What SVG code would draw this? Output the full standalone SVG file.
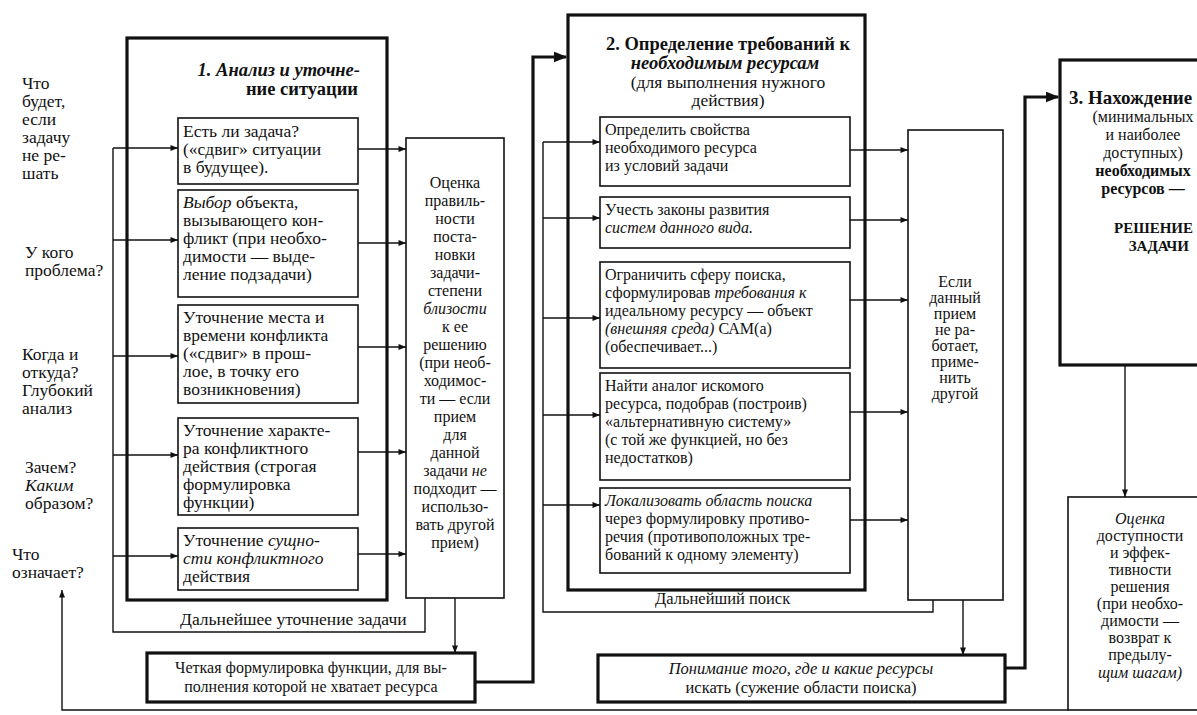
<svg xmlns="http://www.w3.org/2000/svg" width="1197" height="715" viewBox="0 0 1197 715">
<defs>
<style>
.t{font-family:"Liberation Serif","Times New Roman",serif;font-size:16px;fill:#111}
.q{font-size:17.5px}
.s1{font-size:17.5px}
.h{font-size:18.5px}
.h3{font-size:19px}
.cap{font-size:15px}
.m{font-size:16.5px}
.c{text-anchor:middle}
.e{text-anchor:end}
.b{font-weight:bold}
.i{font-style:italic}
.thin{stroke:#111;stroke-width:1.4;fill:none}
.thick{stroke:#111;stroke-width:3.2;fill:none}
.box{fill:#fff;stroke:#111;stroke-width:1.6}
.tbox{fill:#fff;stroke:#111;stroke-width:3.2}
</style>
<marker id="a" viewBox="0 0 10 8" refX="10" refY="4" markerWidth="8" markerHeight="6" markerUnits="userSpaceOnUse" orient="auto"><path d="M0,0 L10,4 L0,8 z" fill="#111"/></marker>
<marker id="A" viewBox="0 0 10 8" refX="9" refY="4" markerWidth="14" markerHeight="11" markerUnits="userSpaceOnUse" orient="auto"><path d="M0,0 L10,4 L0,8 z" fill="#111"/></marker>
</defs>
<rect width="1197" height="715" fill="#fff"/>

<g id="questions">
<text class="t q" x="22" y="89">Что</text>
<text class="t q" x="22" y="107">будет,</text>
<text class="t q" x="22" y="125">если</text>
<text class="t q" x="22" y="143">задачу</text>
<text class="t q" x="22" y="161">не ре-</text>
<text class="t q" x="22" y="179">шать</text>
<text class="t q" x="25" y="258">У кого</text>
<text class="t q" x="25" y="276">проблема?</text>
<text class="t q" x="22" y="360">Когда и</text>
<text class="t q" x="22" y="378">откуда?</text>
<text class="t q" x="22" y="396">Глубокий</text>
<text class="t q" x="22" y="414">анализ</text>
<text class="t q" x="25" y="473">Зачем?</text>
<text class="t q i" x="25" y="491">Каким</text>
<text class="t q" x="25" y="509">образом?</text>
<text class="t q" x="12" y="560">Что</text>
<text class="t q" x="12" y="578">означает?</text>
</g>

<g id="block1">
<rect class="tbox" x="127" y="38" width="260" height="562"/>
<text class="t h b i e" x="360" y="76">1. Анализ и уточне-</text>
<text class="t h b e" x="358" y="95">ние ситуации</text>
</g>

<g id="block2">
<rect class="tbox" x="568" y="15" width="297" height="575"/>
<text class="t h b c" x="728" y="50">2. Определение требований к</text>
<text class="t h b i c" x="725" y="69">необходимым ресурсам</text>
<text class="t s1 c" x="728" y="88">(для выполнения нужного</text>
<text class="t s1 c" x="728" y="106">действия)</text>
</g>

<g id="block3">
<rect class="tbox" x="1060" y="60" width="150" height="305"/>
<text class="t h3 b" x="1069" y="104">3. Нахождение</text>
<text class="t c" x="1143" y="122">(минимальных</text>
<text class="t c" x="1143" y="140">и наиболее</text>
<text class="t c" x="1143" y="158">доступных)</text>
<text class="t b c" x="1143" y="176">необходимых</text>
<text class="t b c" x="1143" y="194">ресурсов —</text>
<text class="t cap b e" x="1193" y="233">РЕШЕНИЕ</text>
<text class="t cap b e" x="1189" y="251">ЗАДАЧИ</text>
</g>

<g id="connectors">
<polyline class="thin" points="425,598 425,632 113,632 113,148"/>
<line class="thin" x1="113" y1="148" x2="178" y2="148" marker-end="url(#a)"/>
<line class="thin" x1="113" y1="240" x2="178" y2="240" marker-end="url(#a)"/>
<line class="thin" x1="113" y1="356" x2="178" y2="356" marker-end="url(#a)"/>
<line class="thin" x1="113" y1="455" x2="178" y2="455" marker-end="url(#a)"/>
<line class="thin" x1="113" y1="556" x2="178" y2="556" marker-end="url(#a)"/>
<line class="thin" x1="358" y1="149" x2="406" y2="149" marker-end="url(#a)"/>
<line class="thin" x1="358" y1="243" x2="406" y2="243" marker-end="url(#a)"/>
<line class="thin" x1="358" y1="347" x2="406" y2="347" marker-end="url(#a)"/>
<line class="thin" x1="358" y1="452" x2="406" y2="452" marker-end="url(#a)"/>
<line class="thin" x1="358" y1="554" x2="406" y2="554" marker-end="url(#a)"/>
<line class="thin" x1="455" y1="598" x2="455" y2="653" marker-end="url(#a)"/>
<polyline class="thick" points="475,682 533,682 533,57 566,57" marker-end="url(#A)"/>
<polyline class="thin" points="933,600 933,612 543,612 543,142"/>
<line class="thin" x1="543" y1="142" x2="600" y2="142" marker-end="url(#a)"/>
<line class="thin" x1="543" y1="218" x2="600" y2="218" marker-end="url(#a)"/>
<line class="thin" x1="543" y1="318" x2="600" y2="318" marker-end="url(#a)"/>
<line class="thin" x1="543" y1="415" x2="600" y2="415" marker-end="url(#a)"/>
<line class="thin" x1="543" y1="505" x2="600" y2="505" marker-end="url(#a)"/>
<line class="thin" x1="850" y1="150" x2="908" y2="150" marker-end="url(#a)"/>
<line class="thin" x1="850" y1="220" x2="908" y2="220" marker-end="url(#a)"/>
<line class="thin" x1="850" y1="300" x2="908" y2="300" marker-end="url(#a)"/>
<line class="thin" x1="850" y1="412" x2="908" y2="412" marker-end="url(#a)"/>
<line class="thin" x1="850" y1="520" x2="908" y2="520" marker-end="url(#a)"/>
<line class="thin" x1="963" y1="600" x2="963" y2="655" marker-end="url(#a)"/>
<polyline class="thick" points="1005,668 1025,668 1025,97 1058,97" marker-end="url(#A)"/>
<line class="thin" x1="1125" y1="365" x2="1125" y2="497" marker-end="url(#a)"/>
<polyline class="thin" points="1068,710 62,710 62,590" marker-end="url(#a)"/>
</g>

<g id="b1-1"><rect class="box" x="178" y="118" width="180" height="66"/>
<text class="t s1" x="183" y="137">Есть ли задача?</text>
<text class="t s1" x="183" y="155">(«сдвиг» ситуации</text>
<text class="t s1" x="183" y="173">в будущее).</text></g>

<g id="b1-2"><rect class="box" x="178" y="190" width="180" height="107"/>
<text class="t s1" x="183" y="208"><tspan class="i">Выбор</tspan> объекта,</text>
<text class="t s1" x="183" y="226">вызывающего кон-</text>
<text class="t s1" x="183" y="244">фликт (при необхо-</text>
<text class="t s1" x="183" y="262">димости — выде-</text>
<text class="t s1" x="183" y="280">ление подзадачи)</text></g>

<g id="b1-3"><rect class="box" x="178" y="305" width="180" height="98"/>
<text class="t s1" x="183" y="323">Уточнение места и</text>
<text class="t s1" x="183" y="341">времени конфликта</text>
<text class="t s1" x="183" y="359">(«сдвиг» в прош-</text>
<text class="t s1" x="183" y="377">лое, в точку его</text>
<text class="t s1" x="183" y="395">возникновения)</text></g>

<g id="b1-4"><rect class="box" x="178" y="418" width="180" height="97"/>
<text class="t s1" x="183" y="436">Уточнение характе-</text>
<text class="t s1" x="183" y="454">ра конфликтного</text>
<text class="t s1" x="183" y="472">действия (строгая</text>
<text class="t s1" x="183" y="490">формулировка</text>
<text class="t s1" x="183" y="508">функции)</text></g>

<g id="b1-5"><rect class="box" x="178" y="528" width="180" height="62"/>
<text class="t s1" x="183" y="546">Уточнение <tspan class="i">сущно-</tspan></text>
<text class="t s1 i" x="183" y="564">сти конфликтного</text>
<text class="t s1" x="183" y="582">действия</text></g>

<g id="evaluation"><rect class="box" x="406" y="138" width="98" height="460"/>
<text class="t c" x="455" y="188">Оценка</text>
<text class="t c" x="455" y="206">правиль-</text>
<text class="t c" x="455" y="224">ности</text>
<text class="t c" x="455" y="242">поста-</text>
<text class="t c" x="455" y="260">новки</text>
<text class="t c" x="455" y="278">задачи-</text>
<text class="t c" x="455" y="296">степени</text>
<text class="t c i" x="455" y="314">близости</text>
<text class="t c" x="455" y="332">к ее</text>
<text class="t c" x="455" y="350">решению</text>
<text class="t c" x="455" y="368">(при необ-</text>
<text class="t c" x="455" y="386">ходимос-</text>
<text class="t c" x="455" y="404">ти — если</text>
<text class="t c" x="455" y="422">прием</text>
<text class="t c" x="455" y="440">для</text>
<text class="t c" x="455" y="458">данной</text>
<text class="t c" x="455" y="476">задачи <tspan class="i">не</tspan></text>
<text class="t c" x="455" y="494">подходит —</text>
<text class="t c" x="455" y="512">использо-</text>
<text class="t c" x="455" y="530">вать другой</text>
<text class="t c" x="455" y="548">прием)</text></g>

<g id="label-refine"><text class="t s1" x="180" y="625">Дальнейшее уточнение задачи</text></g>

<g id="function"><rect class="tbox" x="147" y="653" width="328" height="49"/>
<text class="t c" x="311" y="673">Четкая формулировка функции, для вы-</text>
<text class="t c" x="311" y="692">полнения которой не хватает ресурса</text></g>

<g id="b2-1"><rect class="box" x="600" y="117" width="250" height="69"/>
<text class="t" x="605" y="135">Определить свойства</text>
<text class="t" x="605" y="153">необходимого ресурса</text>
<text class="t" x="605" y="171">из условий задачи</text></g>

<g id="b2-2"><rect class="box" x="600" y="197" width="250" height="51"/>
<text class="t" x="605" y="215">Учесть законы развития</text>
<text class="t i" x="605" y="233">систем данного вида.</text></g>

<g id="b2-3"><rect class="box" x="600" y="262" width="250" height="106"/>
<text class="t" x="605" y="280">Ограничить сферу поиска,</text>
<text class="t" x="605" y="298">сформулировав <tspan class="i">требования к</tspan></text>
<text class="t" x="605" y="316">идеальному ресурсу — объект</text>
<text class="t" x="605" y="334"><tspan class="i">(внешняя среда)</tspan> САМ(а)</text>
<text class="t" x="605" y="352">(обеспечивает...)</text></g>

<g id="b2-4"><rect class="box" x="600" y="373" width="250" height="107"/>
<text class="t" x="605" y="391">Найти аналог искомого</text>
<text class="t" x="605" y="409">ресурса, подобрав (построив)</text>
<text class="t" x="605" y="427">«альтернативную систему»</text>
<text class="t" x="605" y="445">(с той же функцией, но без</text>
<text class="t" x="605" y="463">недостатков)</text></g>

<g id="b2-5"><rect class="box" x="600" y="488" width="250" height="85"/>
<text class="t i" x="605" y="506">Локализовать область поиска</text>
<text class="t" x="605" y="524">через формулировку противо-</text>
<text class="t" x="605" y="542">речия (противоположных тре-</text>
<text class="t" x="605" y="560">бований к одному элементу)</text></g>

<g id="if-not"><rect class="box" x="908" y="130" width="95" height="470"/>
<text class="t c" x="955" y="287">Если</text>
<text class="t c" x="955" y="303">данный</text>
<text class="t c" x="955" y="319">прием</text>
<text class="t c" x="955" y="335">не ра-</text>
<text class="t c" x="955" y="351">ботает,</text>
<text class="t c" x="955" y="367">приме-</text>
<text class="t c" x="955" y="383">нить</text>
<text class="t c" x="955" y="399">другой</text></g>

<g id="label-search"><text class="t m" x="655" y="604">Дальнейший поиск</text></g>

<g id="understanding"><rect class="tbox" x="598" y="655" width="407" height="47"/>
<text class="t m c i" x="801" y="674">Понимание того, где и какие ресурсы</text>
<text class="t m c" x="801" y="693">искать (сужение области поиска)</text></g>

<g id="assessment"><rect class="box" x="1068" y="497" width="140" height="213"/>
<text class="t c i" x="1140" y="524">Оценка</text>
<text class="t c" x="1140" y="541">доступности</text>
<text class="t c" x="1140" y="558">и эффек-</text>
<text class="t c" x="1140" y="575">тивности</text>
<text class="t c" x="1140" y="592">решения</text>
<text class="t c" x="1140" y="609">(при необхо-</text>
<text class="t c" x="1140" y="626">димости —</text>
<text class="t c" x="1140" y="643">возврат к</text>
<text class="t c" x="1140" y="660">предылу-</text>
<text class="t c i" x="1140" y="678">щим шагам)</text></g>
</svg>
